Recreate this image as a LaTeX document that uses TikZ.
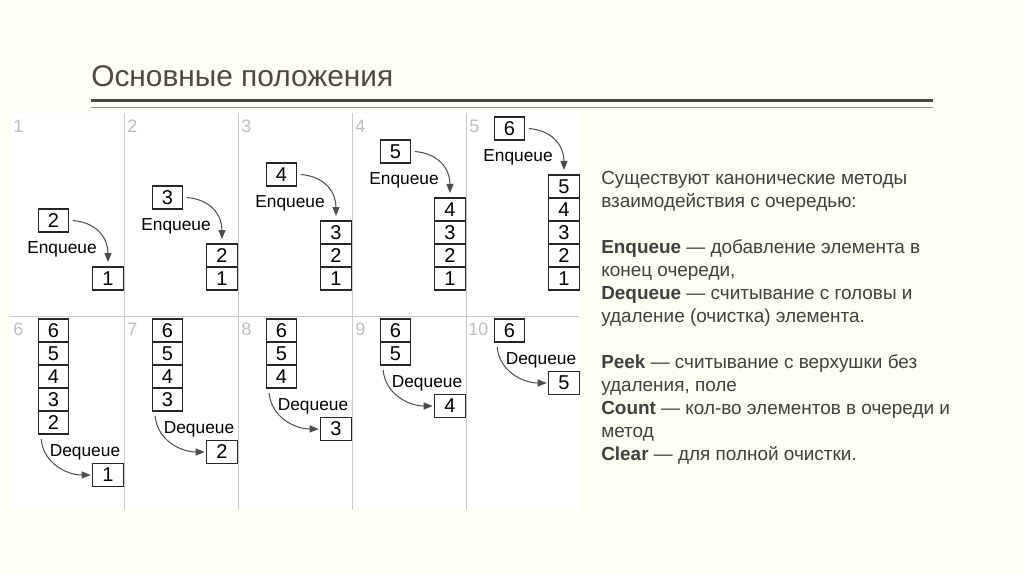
\documentclass[tikz,border=0pt]{standalone}
\usepackage{fontspec}
\setmainfont{Liberation Sans}
\usepackage{xcolor}
\usetikzlibrary{arrows.meta,positioning}

\definecolor{slidebg}{RGB}{254,254,242}
\definecolor{titlegray}{RGB}{77,73,67}
\definecolor{ruledark}{RGB}{74,72,67}
\definecolor{rulelight}{RGB}{140,140,130}
\definecolor{textgray}{RGB}{64,64,64}
\definecolor{sepgray}{RGB}{200,200,200}
\definecolor{numgray}{RGB}{190,190,190}

\begin{document}
\begin{tikzpicture}[
  x=0.75pt, y=-0.75pt,
  >={Triangle[length=6.75pt,width=5.25pt]},
  cell/.style ={draw=black!85, line width=0.95pt, fill=white, inner sep=0pt, outer sep=0pt,
                minimum width=23pt, minimum height=17.25pt, font=\fontsize{15}{15}\selectfont},
  pnum/.style ={anchor=base west, inner sep=0pt, text=numgray, font=\fontsize{13.5}{13.5}\selectfont},
  oplbl/.style={inner sep=0pt, font=\fontsize{13}{13}\selectfont},
  arr/.style  ={->, draw=black!70, line width=0.75pt},
  sep/.style  ={draw=sepgray, line width=0.75pt},
  title/.style={anchor=base west, inner sep=0pt, text=titlegray, font=\fontsize{22.4}{22.4}\selectfont},
  body/.style ={anchor=base west, inner sep=0pt, align=left, text=textgray,
                font=\fontsize{14.2}{17.25}\selectfont}
]
    % Slide background, title and double rule
    \useasboundingbox (0,0) rectangle (1024,574);
    \fill[slidebg] (0,0) rectangle (1024,574);
    \node[title] (title) at (91,87) {Основные положения};
    \draw[ruledark, line width=2.25pt] (91,100.75) -- (933,100.75);
    \draw[rulelight, line width=1.1pt] (91,107.75) -- (933,107.75);

    % Picture area with panel separators
    \fill[white] (10,113) rectangle (579,510);
    \draw[sep] (124,113) -- (124,510) (238,113) -- (238,510)
               (352,113) -- (352,510) (466,113) -- (466,510)
               (10,316) -- (579,316);

    % Top row: Enqueue 1..6
    \node[pnum] (n1) at (13,133) {1};
    \node[cell] (e1c1) at (108,278.5) {1};
    \node[cell] (e1n) at (53.5,220.5) {2};
    \node[oplbl] (e1l) at (62,249.5) {Enqueue};
    \draw[arr] ([xshift=3pt]e1n.east) .. controls +(24,2) and +(0,-24) .. ([yshift=3.75pt]e1c1.north);

    \node[pnum] (n2) at (127,133) {2};
    \node[cell] (e2c1) at (222,278.5) {1};
    \node[cell, above=0pt of e2c1] (e2c2) {2};
    \node[cell] (e2n) at (167.5,197.5) {3};
    \node[oplbl] (e2l) at (176,226.5) {Enqueue};
    \draw[arr] ([xshift=3pt]e2n.east) .. controls +(24,2) and +(0,-24) .. ([yshift=3.75pt]e2c2.north);

    \node[pnum] (n3) at (241,133) {3};
    \node[cell] (e3c1) at (336,278.5) {1};
    \node[cell, above=0pt of e3c1] (e3c2) {2};
    \node[cell, above=0pt of e3c2] (e3c3) {3};
    \node[cell] (e3n) at (281.5,174.5) {4};
    \node[oplbl] (e3l) at (290,203.5) {Enqueue};
    \draw[arr] ([xshift=3pt]e3n.east) .. controls +(24,2) and +(0,-24) .. ([yshift=3.75pt]e3c3.north);

    \node[pnum] (n4) at (355,133) {4};
    \node[cell] (e4c1) at (450,278.5) {1};
    \node[cell, above=0pt of e4c1] (e4c2) {2};
    \node[cell, above=0pt of e4c2] (e4c3) {3};
    \node[cell, above=0pt of e4c3] (e4c4) {4};
    \node[cell] (e4n) at (395.5,151.5) {5};
    \node[oplbl] (e4l) at (404,180.5) {Enqueue};
    \draw[arr] ([xshift=3pt]e4n.east) .. controls +(24,2) and +(0,-24) .. ([yshift=3.75pt]e4c4.north);

    \node[pnum] (n5) at (469,133) {5};
    \node[cell] (e5c1) at (564,278.5) {1};
    \node[cell, above=0pt of e5c1] (e5c2) {2};
    \node[cell, above=0pt of e5c2] (e5c3) {3};
    \node[cell, above=0pt of e5c3] (e5c4) {4};
    \node[cell, above=0pt of e5c4] (e5c5) {5};
    \node[cell] (e5n) at (509.5,128.5) {6};
    \node[oplbl] (e5l) at (518,157.5) {Enqueue};
    \draw[arr] ([xshift=3pt]e5n.east) .. controls +(24,2) and +(0,-24) .. ([yshift=3.75pt]e5c5.north);

    % Bottom row: Dequeue 1..5
    \node[pnum] (n6) at (13,335) {6};
    \node[cell] (d1c6) at (53.5,330.5) {6};
    \node[cell, below=0pt of d1c6] (d1c5) {5};
    \node[cell, below=0pt of d1c5] (d1c4) {4};
    \node[cell, below=0pt of d1c4] (d1c3) {3};
    \node[cell, below=0pt of d1c3] (d1c2) {2};
    \node[cell] (d1o) at (108,475) {1};
    \node[oplbl] (d1l) at (85,452) {Dequeue};
    \draw[arr] ([xshift=2.25pt,yshift=-3.75pt]d1c2.south west) .. controls +(2,24) and +(-24,0) .. ([xshift=-1.5pt]d1o.west);

    \node[pnum] (n7) at (127,335) {7};
    \node[cell] (d2c6) at (167.5,330.5) {6};
    \node[cell, below=0pt of d2c6] (d2c5) {5};
    \node[cell, below=0pt of d2c5] (d2c4) {4};
    \node[cell, below=0pt of d2c4] (d2c3) {3};
    \node[cell] (d2o) at (222,452) {2};
    \node[oplbl] (d2l) at (199,429) {Dequeue};
    \draw[arr] ([xshift=2.25pt,yshift=-3.75pt]d2c3.south west) .. controls +(2,24) and +(-24,0) .. ([xshift=-1.5pt]d2o.west);

    \node[pnum] (n8) at (241,335) {8};
    \node[cell] (d3c6) at (281.5,330.5) {6};
    \node[cell, below=0pt of d3c6] (d3c5) {5};
    \node[cell, below=0pt of d3c5] (d3c4) {4};
    \node[cell] (d3o) at (336,429) {3};
    \node[oplbl] (d3l) at (313,406) {Dequeue};
    \draw[arr] ([xshift=2.25pt,yshift=-3.75pt]d3c4.south west) .. controls +(2,24) and +(-24,0) .. ([xshift=-1.5pt]d3o.west);

    \node[pnum] (n9) at (355,335) {9};
    \node[cell] (d4c6) at (395.5,330.5) {6};
    \node[cell, below=0pt of d4c6] (d4c5) {5};
    \node[cell] (d4o) at (450,406) {4};
    \node[oplbl] (d4l) at (427,383) {Dequeue};
    \draw[arr] ([xshift=2.25pt,yshift=-3.75pt]d4c5.south west) .. controls +(2,24) and +(-24,0) .. ([xshift=-1.5pt]d4o.west);

    \node[pnum] (n10) at (468,335) {10};
    \node[cell] (d5c6) at (509.5,330.5) {6};
    \node[cell] (d5o) at (564,383) {5};
    \node[oplbl] (d5l) at (541,360) {Dequeue};
    \draw[arr] ([xshift=2.25pt,yshift=-3.75pt]d5c6.south west) .. controls +(2,24) and +(-24,0) .. ([xshift=-1.5pt]d5o.west);

    % Method list on the right (base anchor sits on the last line)
    \node[body] (info) at (601,460.5) {Существуют канонические методы\\
      взаимодействия с очередью:\\[17.25pt]
      \textbf{Enqueue} — добавление элемента в\\
      конец очереди,\\
      \textbf{Dequeue} — считывание с головы и\\
      удаление (очистка) элемента.\\[17.25pt]
      \textbf{Peek} — считывание с верхушки без\\
      удаления, поле\\
      \textbf{Count} — кол-во элементов в очереди и\\
      метод\\
      \textbf{Clear} — для полной очистки.};
\end{tikzpicture}
\end{document}
